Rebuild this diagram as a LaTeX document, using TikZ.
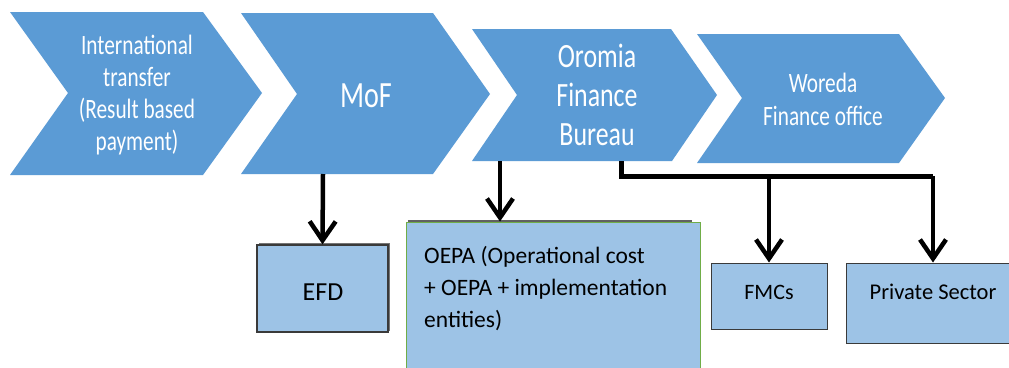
\documentclass[tikz,border=0pt]{standalone}
\usepackage{fontspec}
\setmainfont{Carlito}
\newfontfamily\chevfont[FakeStretch=0.76]{Carlito}
\usetikzlibrary{arrows.meta}
\definecolor{chevblue}{HTML}{5B9BD5}
\definecolor{boxblue}{HTML}{9DC3E6}
\definecolor{boxgreen}{HTML}{70AD47}
\definecolor{boxedge}{HTML}{3A3A3A}
\tikzset{
  chev/.style={fill=chevblue, draw=none},
  chevtext/.style={text=white, align=center, inner sep=0pt, font=\chevfont},
  boxnode/.style={fill=boxblue, draw=boxedge, line width=1.3pt, inner sep=0pt},
  boxtext/.style={text=black, inner sep=0pt, font=\fontsize{23.5}{32}\selectfont},
  arr/.style={line width=4.5pt, -{Straight Barb[length=19pt,width=26pt]}},
  bar/.style={line width=5pt}
}
\begin{document}
\begin{tikzpicture}[x=1pt,y=-1pt]
\clip (0,0) rectangle (1009,367);
\fill[white] (0,0) rectangle (1009,367);
% chevrons
\fill[chev] (10,12) -- (203,12) -- (262,93) -- (203,175) -- (10,175) -- (68,93) -- cycle;
\fill[chev] (241,13) -- (433,13) -- (490,94) -- (433,174) -- (241,174) -- (297,94) -- cycle;
\fill[chev] (472,29) -- (671,29) -- (717,95) -- (672,161) -- (472,161) -- (517,95) -- cycle;
\fill[chev] (697,34) -- (899,34) -- (945,98) -- (899,163) -- (697,163) -- (742,98) -- cycle;
\node[chevtext, font=\chevfont\fontsize{28}{32}\selectfont] (c1) at (137,95) {International\\transfer\\(Result based\\payment)};
\node[chevtext, font=\chevfont\fontsize{37}{40}\selectfont] (c2) at (366,96) {MoF};
\node[chevtext, font=\chevfont\fontsize{34}{39}\selectfont] (c3) at (597,95) {Oromia\\Finance\\Bureau};
\node[chevtext, font=\chevfont\fontsize{28}{33}\selectfont] (c4) at (823,99) {Woreda\\Finance office};
% connector start points on chevron bottoms
\coordinate (mofb) at (323,174);
\coordinate (ofba) at (500,161);
\coordinate (ofbb) at (621,161);
\coordinate (split) at (621,176);
% boxes
\fill[boxedge!70] (259,243) rectangle (390,331);
\node[boxnode, minimum width=131pt, minimum height=87pt] (efd) at (322.5,288.5) {};
\node[boxtext, font=\fontsize{26}{30}\selectfont] (efdt) at (323,292) {EFD};
\fill[boxedge!80] (408,220) rectangle (692,380);
\node[boxnode, draw=boxgreen, line width=1pt, minimum width=294pt, minimum height=158pt] (oepa) at (553,301) {};
\node[boxtext, anchor=west, align=left] (oepat) at (424,289) {OEPA (Operational cost\\+ OEPA + implementation\\entities)};
\node[boxnode, line width=1pt, minimum width=116pt, minimum height=66pt] (fmc) at (769,296) {};
\node[boxtext, font=\fontsize{22}{26}\selectfont] (fmct) at (769,292) {FMCs};
\node[boxnode, line width=1pt, minimum width=174pt, minimum height=80pt] (priv) at (933,303) {};
\node[boxtext, font=\fontsize{22.5}{26}\selectfont] (privt) at (933,292) {Private Sector};
% connectors
\draw[arr] (mofb) -- (efd.north);
\draw[arr] (ofba) -- (ofba |- oepa.north);
\draw[bar, line cap=square] (ofbb) -- (split) -- (split -| priv.north);
\draw[arr] (split -| fmc.north) -- (fmc.north);
\draw[arr] (split -| priv.north) -- (priv.north);
\end{tikzpicture}
\end{document}
